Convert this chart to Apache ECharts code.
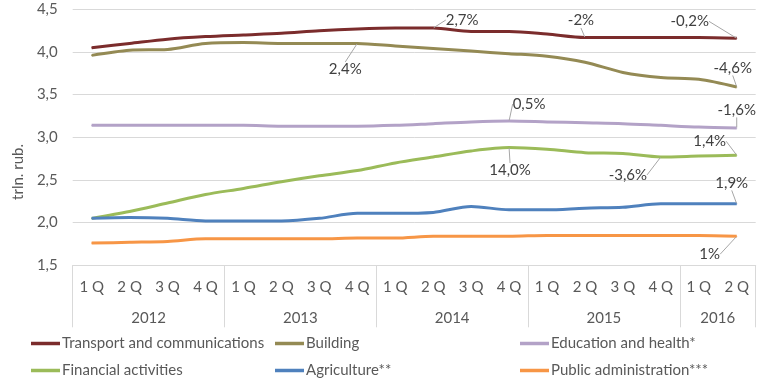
<!DOCTYPE html>
<html><head><meta charset="utf-8">
<script src="https://cdn.jsdelivr.net/npm/echarts@6/dist/echarts.min.js"></script>
<style>html,body{margin:0;padding:0;background:#fff}#c{width:768px;height:388px}</style>
</head><body><div id="c"></div>
<script>
// ---- data ----
const years = ['2012', '2013', '2014', '2015', '2016'];
const quartersPerYear = [4, 4, 4, 4, 2];
const quarters = ['1 Q','2 Q','3 Q','4 Q','1 Q','2 Q','3 Q','4 Q','1 Q','2 Q','3 Q','4 Q','1 Q','2 Q','3 Q','4 Q','1 Q','2 Q'];

const seriesNames = ['Transport and communications', 'Building', 'Education and health*', 'Financial activities', 'Agriculture**', 'Public administration***'];
const transport   = [4.05,4.10,4.15,4.18,4.20,4.22,4.25,4.27,4.28,4.28,4.24,4.24,4.21,4.17,4.17,4.17,4.17,4.16];
const building    = [3.96,4.02,4.03,4.10,4.11,4.10,4.10,4.10,4.07,4.04,4.01,3.98,3.95,3.88,3.76,3.70,3.68,3.59];
const education   = [3.14,3.14,3.14,3.14,3.14,3.13,3.13,3.13,3.14,3.16,3.18,3.19,3.18,3.17,3.16,3.14,3.12,3.11];
const financial   = [2.05,2.13,2.23,2.33,2.40,2.48,2.55,2.61,2.70,2.77,2.84,2.88,2.86,2.82,2.81,2.77,2.78,2.79];
const agriculture = [2.05,2.06,2.05,2.02,2.02,2.02,2.05,2.11,2.11,2.12,2.19,2.15,2.15,2.17,2.18,2.22,2.22,2.22];
const publicAdmin = [1.76,1.77,1.78,1.81,1.81,1.81,1.81,1.82,1.82,1.84,1.84,1.84,1.85,1.85,1.85,1.85,1.85,1.84];

// annotation texts (index -> text)
const transportNotes   = {9: '2,7%', 13: '-2%', 17: '-0,2%'};
const buildingNotes    = {7: '2,4%', 17: '-4,6%'};
const educationNotes   = {11: '0,5%', 17: '-1,6%'};
const financialNotes   = {11: '14,0%', 15: '-3,6%', 17: '1,4%'};
const agricultureNotes = {17: '1,9%'};
const publicAdminNotes = {17: '1%'};

const yTicks = {min: 1.5, max: 4.5, interval: 0.5};

// ---- styling ----
const colors = ['#7b2c2c', '#948a54', '#b3a2c7', '#9bbb59', '#4f81bd', '#f79646'];
// label offsets (label centre relative to point), pixels
const labelOffsets = [
  {9: [29, -8], 13: [-4, -17], 17: [-47, -17]},
  {7: [-12, 26], 17: [-4, -19]},
  {11: [20, -17], 17: [0, -18]},
  {11: [1, 23], 15: [-33, 18], 17: [-27, -14]},
  {17: [-5, -21]},
  {17: [-27, 18]}
];
const FONT = 'Lato, "Open Sans", sans-serif';
const FS = 15;

// ---- build ----
const allValues = [transport, building, education, financial, agriculture, publicAdmin];
const allNotes = [transportNotes, buildingNotes, educationNotes, financialNotes, agricultureNotes, publicAdminNotes];

// year axis: boundary slots (categories+1)
const yearSlots = [];
const yearBoundaries = [0];
const yearLabelIdx = {};
{
  let pos = 0;
  years.forEach((y, k) => {
    const n = quartersPerYear[k];
    yearLabelIdx[pos + n / 2] = y;
    pos += n;
    yearBoundaries.push(pos);
  });
  for (let i = 0; i <= pos; i++) yearSlots.push(yearLabelIdx[i] || '');
}

const series = allValues.map((vals, s) => ({
  name: seriesNames[s],
  type: 'line',
  xAxisIndex: 0,
  data: vals.map((v, i) => {
    const note = allNotes[s][i];
    if (note) {
      return {value: v, label: {show: true, formatter: note}, labelLine: {show: true}};
    }
    return v;
  }),
  smooth: 0.3,
  symbol: 'circle',
  symbolSize: 1,
  showSymbol: true,
  lineStyle: {width: 3, color: colors[s]},
  itemStyle: {color: colors[s]},
  silent: true,
  label: {show: false, position: 'inside', color: '#404040', fontSize: FS, fontFamily: FONT},
  labelLine: {show: false, lineStyle: {color: '#a6a6a6', width: 1}},
  labelLayout: function (p) {
    const off = labelOffsets[s][p.dataIndex];
    if (!off || !p.rect || !p.labelRect) return {};
    const cx = p.rect.x + p.rect.width / 2 + off[0];
    const cy = p.rect.y + p.rect.height / 2 + off[1];
    return {
      dx: cx - (p.labelRect.x + p.labelRect.width / 2),
      dy: cy - (p.labelRect.y + p.labelRect.height / 2)
    };
  },
  emphasis: {disabled: true}
}));

function legendCol(names, left) {
  return {
    orient: 'vertical', left: left, top: 336, padding: 0,
    data: names,
    icon: 'rect', itemWidth: 29, itemHeight: 3.5, itemGap: 12,
    textStyle: {color: '#595959', fontSize: FS, fontFamily: FONT, lineHeight: 15, padding: [0, 0, 0, -3]},
    selectedMode: false
  };
}

const option = {
  animation: false,
  color: colors,
  grid: {left: 72.7, right: 12.3, top: 9.3, bottom: 122.7},
  xAxis: [
    {
      type: 'category', data: quarters, boundaryGap: true, position: 'bottom',
      axisLine: {show: true, lineStyle: {color: '#d9d9d9', width: 1}},
      axisTick: {show: false},
      axisLabel: {color: '#595959', fontSize: FS, fontFamily: FONT, margin: 14, interval: 0}
    },
    {
      type: 'category', data: yearSlots, boundaryGap: false, position: 'bottom',
      axisLine: {show: false},
      axisTick: {show: true, length: 62, lineStyle: {color: '#d9d9d9', width: 1},
        interval: (i) => yearBoundaries.indexOf(i) >= 0},
      axisLabel: {color: '#595959', fontSize: FS, fontFamily: FONT, margin: 45,
        interval: (i) => yearSlots[i] !== ''},
      splitLine: {show: false}
    }
  ],
  yAxis: {
    type: 'value', min: yTicks.min, max: yTicks.max, interval: yTicks.interval,
    axisLine: {show: false}, axisTick: {show: false},
    splitLine: {lineStyle: {color: '#d9d9d9', width: 1}},
    axisLabel: {color: '#595959', fontSize: FS, fontFamily: FONT, margin: 15,
      formatter: (v) => v.toFixed(1).replace('.', ',')}
  },
  legend: [
    legendCol([seriesNames[0], seriesNames[3]], 31),
    legendCol([seriesNames[1], seriesNames[4]], 275),
    legendCol([seriesNames[2], seriesNames[5]], 520)
  ],
  graphic: [{
    type: 'text', x: 18, y: 172, rotation: Math.PI / 2,
    style: {text: 'trln. rub.', fill: '#595959', fontSize: FS, fontFamily: FONT,
      textAlign: 'center', textVerticalAlign: 'middle'}
  }],
  series: series
};

const chart = echarts.init(document.getElementById('c'), null, {renderer: 'canvas'});
chart.setOption(option);
</script>
</body></html>
